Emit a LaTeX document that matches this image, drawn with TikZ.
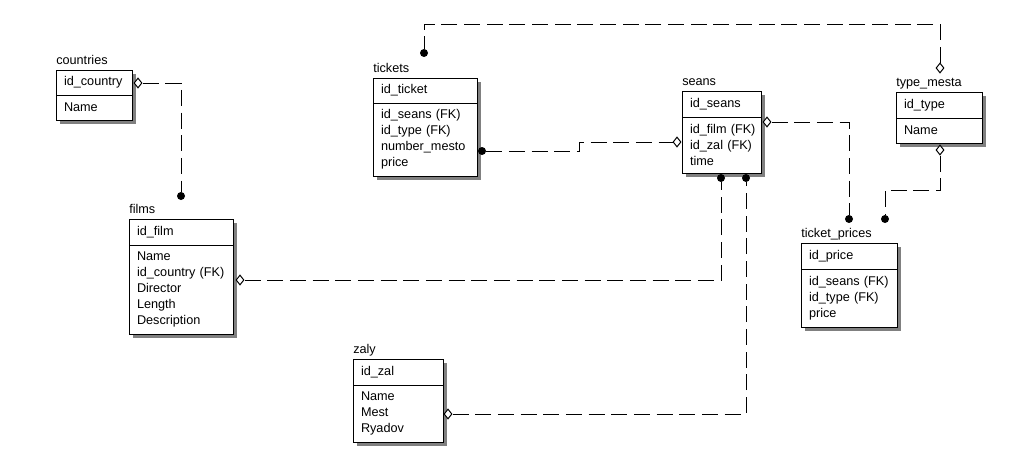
\documentclass[tikz,border=0pt]{standalone}
\usepackage{fontspec}
\setmainfont{Liberation Sans}
\usetikzlibrary{shapes.geometric}
\usetikzlibrary{shadows}
\usetikzlibrary{calc}

\tikzset{
  tblbox/.style 2 args={draw, fill=white, line width=0.75pt, anchor=north west,
    outer sep=0pt, inner xsep=6pt, inner ysep=0pt, align=left,
    minimum width=#1, text width=#1-12pt, minimum height=#2,
    font=\fontsize{9.5}{12}\selectfont,
    drop shadow={shadow xshift=3pt, shadow yshift=-3pt, fill=black!50, opacity=1}},
  tbltitle/.style={anchor=base west, inner sep=0pt, font=\fontsize{9.5}{12}\selectfont},
  fkdot/.style={circle, fill=black, inner sep=0pt, minimum size=6pt},
  pkdiamond/.style={diamond, draw, fill=white, line width=0.75pt, inner sep=0pt,
    minimum width=6pt, minimum height=7.5pt},
  rel/.style={line width=0.75pt, dash pattern=on 12pt off 5pt}
}

\begin{document}
\begin{tikzpicture}[x=0.75pt, y=-0.75pt]
          \fill[white] (0,0) rectangle (1020,475);
          \useasboundingbox (0,0) rectangle (1020,475);
          % countries
          \node[tblbox={57pt}{18.75pt}] (countries-key) at (56,70) {id\_country};
          \node[tblbox={57pt}{18.75pt}] (countries-attr) at (56,95) {Name};
          \node[tbltitle] (countries) at (56,64) {countries};
          % films
          \node[tblbox={78pt}{19.5pt}] (films-key) at (129,219) {id\_film};
          \node[tblbox={78pt}{66.75pt}] (films-attr) at (129,245)
            {Name\\id\_country~(FK)\\Director\\Length\\Description};
          \node[tbltitle] (films) at (129,213) {films};
          % tickets
          \node[tblbox={78pt}{18.75pt}] (tickets-key) at (373,78) {id\_ticket};
          \node[tblbox={78pt}{54.75pt}] (tickets-attr) at (373,103)
            {id\_seans~(FK)\\id\_type~(FK)\\number\_mesto\\price};
          \node[tbltitle] (tickets) at (373,72) {tickets};
          % seans
          \node[tblbox={59.25pt}{19.5pt}] (seans-key) at (682,91) {id\_seans};
          \node[tblbox={59.25pt}{42pt}] (seans-attr) at (682,117)
            {id\_film~(FK)\\id\_zal~(FK)\\time};
          \node[tbltitle] (seans) at (682,85) {seans};
          % type_mesta
          \node[tblbox={64.5pt}{19.5pt}] (type-key) at (896,92) {id\_type};
          \node[tblbox={64.5pt}{18.75pt}] (type-attr) at (896,118) {Name};
          \node[tbltitle] (type) at (896,86) {type\_mesta};
          % ticket_prices
          \node[tblbox={72pt}{19.5pt}] (prices-key) at (801,243) {id\_price};
          \node[tblbox={72pt}{43.5pt}] (prices-attr) at (801,269)
            {id\_seans~(FK)\\id\_type~(FK)\\price};
          \node[tbltitle] (prices) at (801,237) {ticket\_prices};
          % zaly
          \node[tblbox={67.5pt}{19.5pt}] (zaly-key) at (353,359) {id\_zal};
          \node[tblbox={67.5pt}{42.75pt}] (zaly-attr) at (353,385)
            {Name\\Mest\\Ryadov};
          \node[tbltitle] (zaly) at (353,353) {zaly};
          % relationship ends
          \node[pkdiamond] (d-countries) at (138,83) {};
          \node[fkdot] (p-films) at (181,196) {};
          \node[pkdiamond] (d-films) at (240,280) {};
          \node[fkdot] (p-seans-film) at (721,178) {};
          \node[pkdiamond] (d-zaly) at (448,414) {};
          \node[fkdot] (p-seans-zal) at (746,178) {};
          \node[fkdot] (p-tickets-seans) at (482,151) {};
          \node[pkdiamond] (d-seans-tickets) at (677,142) {};
          \node[pkdiamond] (d-seans-prices) at (767,122) {};
          \node[fkdot] (p-prices-seans) at (849,219) {};
          \node[pkdiamond] (d-type-prices) at (940,150) {};
          \node[fkdot] (p-prices-type) at (885,219) {};
          \node[pkdiamond] (d-type-tickets) at (940,68) {};
          \node[fkdot] (p-tickets-type) at (424,53) {};
          % relationships
          \draw[rel] (d-countries) -| (p-films);
          \draw[rel] (d-films) -| (p-seans-film);
          \draw[rel] (d-zaly) -| (p-seans-zal);
          \draw[rel] (p-tickets-seans) -| ($(p-tickets-seans)!.5!(d-seans-tickets)$) |- (d-seans-tickets);
          \draw[rel] (d-seans-prices) -| (p-prices-seans);
          \draw[rel] (d-type-prices) -- ++(0,40) -| (p-prices-type);
          \draw[rel] (d-type-tickets) -- ++(0,-44) -| (p-tickets-type);
        \end{tikzpicture}
\end{document}
